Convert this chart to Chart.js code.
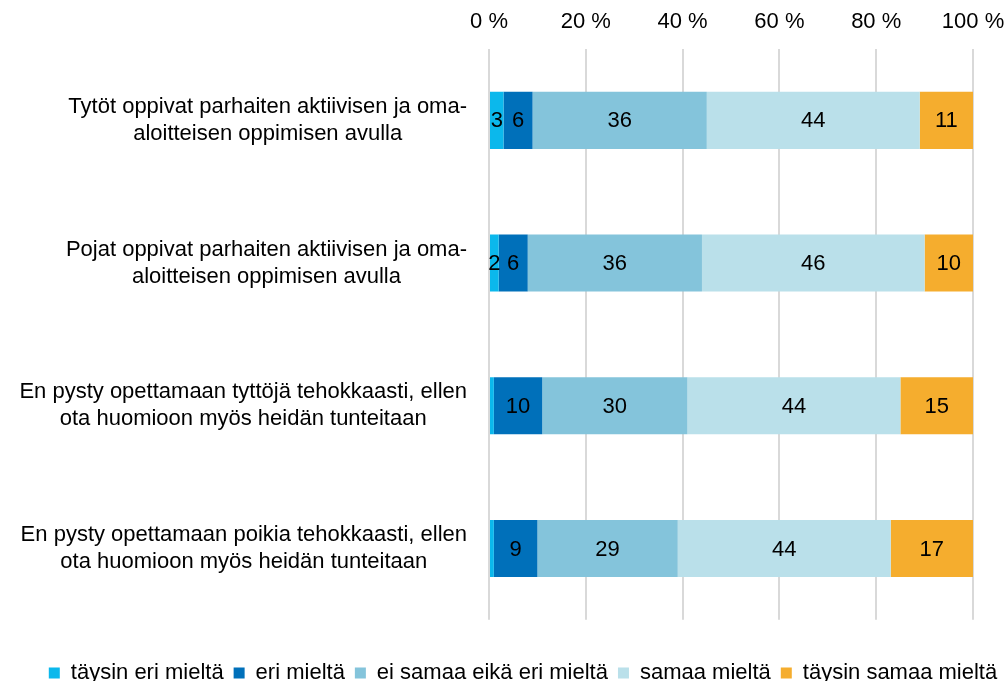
<!DOCTYPE html>
<html>
<head>
<meta charset="utf-8">
<script src="https://cdn.jsdelivr.net/npm/chart.js@4/dist/chart.umd.min.js"></script>
<style>
  html, body { margin: 0; padding: 0; background: #fff; }
  #wrap { width: 1008px; height: 681px; position: relative; }
</style>
</head>
<body>
<div id="wrap"><canvas id="grafico"></canvas></div>
<script>
const kategoriat = [
  ["Tytöt oppivat parhaiten aktiivisen ja oma-", "aloitteisen oppimisen avulla"],
  ["Pojat oppivat parhaiten aktiivisen ja oma-", "aloitteisen oppimisen avulla"],
  ["En pysty opettamaan tyttöjä tehokkaasti, ellen", "ota huomioon myös heidän tunteitaan"],
  ["En pysty opettamaan poikia tehokkaasti, ellen", "ota huomioon myös heidän tunteitaan"]
];

const sarjat = ["täysin eri mieltä", "eri mieltä", "ei samaa eikä eri mieltä", "samaa mieltä", "täysin samaa mieltä"];

const taysinEri = [3, 2, 1, 1];
const eri = [6, 6, 10, 9];
const eiSamaaEikaEri = [36, 36, 30, 29];
const samaa = [44, 46, 44, 44];
const taysinSamaa = [11, 10, 15, 17];

const xTikit = [0, 20, 40, 60, 80, 100];

const varit = ["#0BB8EC", "#0070BA", "#84C4DB", "#BAE0EA", "#F5AD2E"];
const FONTTI = "'Liberation Sans', Arial, sans-serif";
const KOKO = 22;

const arvot = [taysinEri, eri, eiSamaaEikaEri, samaa, taysinSamaa];

// arvot palkkien keskelle
const arvoTekstit = {
  id: "arvoTekstit",
  afterDatasetsDraw(chart) {
    const ctx = chart.ctx;
    ctx.save();
    ctx.font = KOKO + "px " + FONTTI;
    ctx.fillStyle = "#000";
    ctx.textAlign = "center";
    ctx.textBaseline = "middle";
    chart.data.datasets.forEach((ds, di) => {
      const meta = chart.getDatasetMeta(di);
      meta.data.forEach((el, i) => {
        const v = ds.data[i];
        if (v < 2) return;
        const { x, base, y } = el.getProps(["x", "base", "y"], true);
        ctx.fillText(String(v), (x + base) / 2, y + 1);
      });
    });
    ctx.restore();
  }
};

// kategorioiden nimet: lohko oikealle, rivit keskitetty
const kategoriaTekstit = {
  id: "kategoriaTekstit",
  afterDraw(chart) {
    const ctx = chart.ctx;
    const y = chart.scales.y;
    ctx.save();
    ctx.font = KOKO + "px " + FONTTI;
    ctx.fillStyle = "#000";
    ctx.textAlign = "center";
    ctx.textBaseline = "middle";
    const riviKorkeus = 27;
    kategoriat.forEach((rivit, i) => {
      const leveys = Math.max(...rivit.map((r) => ctx.measureText(r).width));
      const keskiX = 467 - leveys / 2;
      const keskiY = y.getPixelForValue(i);
      rivit.forEach((r, j) => {
        const ry = keskiY + (j - (rivit.length - 1) / 2) * riviKorkeus;
        ctx.fillText(r, keskiX, ry);
      });
    });
    ctx.restore();
  }
};

const ctx = document.getElementById("grafico").getContext("2d");

new Chart(ctx, {
  type: "bar",
  data: {
    labels: kategoriat,
    datasets: sarjat.map((nimi, i) => ({
      label: nimi,
      data: arvot[i],
      backgroundColor: varit[i],
      borderWidth: 0,
      categoryPercentage: 0.8,
      barPercentage: 0.5
    }))
  },
  options: {
    indexAxis: "y",
    responsive: true,
    maintainAspectRatio: false,
    animation: false,
    // selite on osittain kuvan alareunan alla, kuten mallissa
    layout: { padding: { left: 38, right: 0, top: 0, bottom: -13 } },
    plugins: {
      tooltip: { enabled: false },
      legend: {
        position: "bottom",
        title: { display: true, text: "", padding: { top: 31, bottom: 0 }, font: { size: 1 } },
        labels: {
          boxWidth: 11,
          boxHeight: 11,
          padding: 10,
          color: "#000",
          font: { size: KOKO, family: FONTTI }
        }
      }
    },
    scales: {
      x: {
        position: "top",
        stacked: true,
        min: 0,
        max: 100,
        afterBuildTicks: (scale) => {
          scale.ticks = xTikit.map((v) => ({ value: v }));
        },
        afterFit: (scale) => {
          scale.height = 49;
          scale.paddingRight = 35;
        },
        grid: { color: "#D9D9D9", lineWidth: 2, drawTicks: false },
        border: { display: false },
        ticks: {
          padding: 14,
          color: "#000",
          font: { size: KOKO, family: FONTTI },
          callback: (v) => v + " %"
        }
      },
      y: {
        stacked: true,
        afterFit: (scale) => {
          scale.width = 489 - 38;
        },
        grid: { display: false },
        border: { display: false },
        ticks: { display: false }
      }
    }
  },
  plugins: [arvoTekstit, kategoriaTekstit]
});
</script>
</body>
</html>
